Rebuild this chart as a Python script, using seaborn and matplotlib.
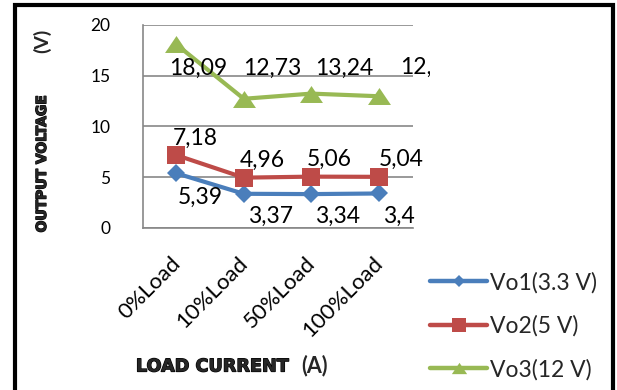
import numpy as np
import pandas as pd
import matplotlib
matplotlib.use("Agg")
import matplotlib.pyplot as plt
import matplotlib.transforms as mtransforms
import matplotlib.patheffects as pe
import seaborn as sns
from matplotlib.lines import Line2D
from matplotlib.patches import Rectangle
from matplotlib.path import Path

# ---- data ----
loads = ["0%Load", "10%Load", "50%Load", "100%Load"]
vo1 = [5.39, 3.37, 3.34, 3.40]
vo2 = [7.18, 4.96, 5.06, 5.04]
vo3 = [18.09, 12.73, 13.24, 12.98]
series_names = ["Vo1(3.3 V)", "Vo2(5 V)", "Vo3(12 V)"]
y_ticks = [0, 5, 10, 15, 20]

df = pd.DataFrame({
    "load": loads * 3,
    "voltage": vo1 + vo2 + vo3,
    "series": np.repeat(series_names, len(loads)),
})

# ---- style ----
sns.set_theme(style="white")
plt.rcParams["font.family"] = ["Lato", "DejaVu Sans"]

colors = ["#4A7EBB", "#BE4B48", "#98B954"]
palette = dict(zip(series_names, colors))
wide_triangle = Path([(-1, -0.74), (1, -0.74), (0, 0.74), (-1, -0.74)],
                     [Path.MOVETO, Path.LINETO, Path.LINETO, Path.CLOSEPOLY])
marker_map = dict(zip(series_names, ["D", "s", wide_triangle]))
plot_marker_sizes = [9, 13.5, 16.5]
legend_marker_sizes = [6.5, 10, 11]
grid_gray = "#878787"

fig = plt.figure(figsize=(6.17, 3.90), dpi=100)
fig.patch.set_facecolor("white")
ax = fig.add_axes([0.2310, 0.4154, 0.4376, 0.5205])

sns.lineplot(data=df, x="load", y="voltage", hue="series", style="series",
             markers=marker_map, dashes=False, palette=palette, sort=False,
             linewidth=3, legend=False, ax=ax)

for line, ms in zip(ax.lines, plot_marker_sizes):
    line.set_markersize(ms)
    line.set_markeredgewidth(0)
    line.set_solid_joinstyle("round")
    line.set_solid_capstyle("round")

ax.set_xlim(-0.5, len(loads) - 0.5)
ax.set_ylim(0, 20)
ax.set_yticks(y_ticks)
ax.yaxis.grid(True, color=grid_gray, linewidth=1.2)
ax.xaxis.grid(False)
ax.set_axisbelow(True)
for side in ["top", "right"]:
    ax.spines[side].set_visible(False)
for side in ["left", "bottom"]:
    ax.spines[side].set_color(grid_gray)
    ax.spines[side].set_linewidth(1.2)
ax.set_xlabel("")
ax.set_ylabel("")
ax.tick_params(axis="y", length=0, pad=23, labelsize=12.5, labelcolor="black")
ax.tick_params(axis="x", length=0, pad=18, labelsize=16, labelcolor="black")
shift = mtransforms.ScaledTranslation(-6 / 100, 0, fig.dpi_scale_trans)
for lab in ax.get_xticklabels():
    lab.set_rotation(45)
    lab.set_ha("right")
    lab.set_va("top")
    lab.set_rotation_mode("anchor")
    lab.set_transform(lab.get_transform() + shift)

# ---- data labels (offsets in pixels from each point) ----
label_offsets = [
    [(24, -31), (27, -29), (26, -29), (20, -29.5)],
    [(19, 10.5), (19, 11), (18, 11), (22, 11)],
    [(22, -30.5), (28, 24), (33, 19), (50, 22)],
]
label_clip = Rectangle((0, 0), 430 / 617, 1, transform=fig.transFigure)
for values, offsets in zip([vo1, vo2, vo3], label_offsets):
    for i, (v, (dx, dy)) in enumerate(zip(values, offsets)):
        txt = ax.annotate(f"{v:g}".replace(".", ","), xy=(i, v),
                          xytext=(dx, dy), textcoords="offset pixels",
                          ha="center", va="baseline", fontsize=16.5,
                          color="black", annotation_clip=False)
        txt.set_clip_path(label_clip)

# ---- axis titles ----
heavy = ["DejaVu Sans"]
thick = [pe.withStroke(linewidth=0.9, foreground="black")]
fig.text(42 / 617, 1 - 163.5 / 390, "OUTPUT VOLTAGE", rotation=90,
         ha="center", va="center", fontsize=10, fontweight="bold",
         family=heavy, path_effects=thick)
fig.text(42 / 617, 1 - 41 / 390, "(V)", rotation=90,
         ha="center", va="center", fontsize=14, fontweight="bold")
fig.text(212.5 / 617, 1 - 366.5 / 390, "LOAD CURRENT",
         ha="center", va="center", fontsize=12.7, fontweight="bold",
         family=heavy, path_effects=thick)
fig.text(314 / 617, 1 - 366 / 390, "(A)",
         ha="center", va="center", fontsize=15.5, fontweight="bold")

# ---- legend ----
handles = [
    Line2D([], [], color=c, lw=3.2, marker=marker_map[n], markersize=ms,
           markeredgewidth=0)
    for n, c, ms in zip(series_names, colors, legend_marker_sizes)
]
fig.legend(handles, series_names, loc="upper left",
           bbox_to_anchor=(430 / 617, 1 - 272 / 390), frameon=False,
           fontsize=16.5, handlelength=2.5, handletextpad=0.13,
           labelspacing=0.95, borderpad=0, borderaxespad=0)

# ---- outer frame ----
fig.add_artist(Rectangle((15 / 617, -0.05), (612.5 - 15) / 617,
                         1.05 - 5.5 / 390, fill=False, edgecolor="black",
                         linewidth=3, transform=fig.transFigure))

fig.savefig("out.png", dpi=100, facecolor="white")
